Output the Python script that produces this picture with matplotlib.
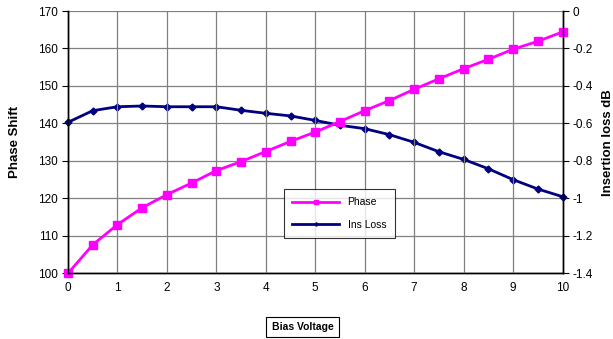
import numpy as np
import matplotlib.pyplot as plt

plt.rcParams['font.family'] = ['Liberation Sans', 'DejaVu Sans']

# bias voltage (V)
voltage = [0, 0.5, 1, 1.5, 2, 2.5, 3, 3.5, 4, 4.5, 5, 5.5, 6, 6.5, 7, 7.5, 8, 8.5, 9, 9.5, 10]
# phase shift (deg)
phase = [100, 107.6, 113.0, 117.5, 121.0, 124.1, 127.4, 129.8, 132.5, 135.2, 137.7,
         140.5, 143.4, 146.1, 149.1, 151.9, 154.6, 157.1, 159.8, 161.9, 164.4]
# insertion loss (dB)
ins_loss = [-0.594, -0.532, -0.511, -0.507, -0.511, -0.511, -0.511, -0.530, -0.546, -0.560, -0.584,
            -0.610, -0.628, -0.660, -0.701, -0.751, -0.792, -0.842, -0.900, -0.950, -0.991]

fig = plt.figure(figsize=(6.13, 3.39), dpi=100)
ax = fig.add_axes([68 / 613, 1 - 273.3 / 339, (562.5 - 68) / 613, (273.3 - 11) / 339])
ax2 = ax.twinx()

# put phase axes on top so the magenta line overlays
ax.set_zorder(ax2.get_zorder() + 1)
ax.patch.set_visible(False)

ax.set_xlim(0, 10)
ax.set_ylim(100, 170)
ax2.set_ylim(-1.4, 0)
ax.set_xticks(range(0, 11))
ax.set_yticks(range(100, 171, 10))
ax2.set_yticks(np.arange(-1.4, 0.01, 0.2))
ax2.set_yticklabels(["-1.4", "-1.2", "-1", "-0.8", "-0.6", "-0.4", "-0.2", "0"])

ax2.grid(True, color="#808080", lw=0.9)
ax.grid(True, axis="x", color="#808080", lw=0.9)
ax2.set_axisbelow(True)

l1, = ax.plot(voltage, phase, color="#FF00FF", lw=2, marker="s", ms=5.5,
              clip_on=False, label="Phase")
l2, = ax2.plot(voltage, ins_loss, color="#000080", lw=2, marker="D", ms=3.5,
               clip_on=False, label="Ins Loss")

for a in (ax, ax2):
    a.spines["top"].set_visible(False)
    for s in ("left", "right", "bottom"):
        a.spines[s].set_color("black")
        a.spines[s].set_linewidth(1)
    a.tick_params(labelsize=8.5, length=4, width=0.8, colors="black")
ax.tick_params(axis="x", length=0, pad=6)

ax.set_ylabel("Phase Shift", fontsize=9.5, fontweight="bold", labelpad=12)
ax2.set_ylabel("Insertion loss dB", fontsize=9.5, fontweight="bold", labelpad=6)

fig.text((265 + 340) / 2 / 613, 1 - 327 / 339, "Bias Voltage", fontsize=7.5,
         fontweight="bold", ha="center", va="center",
         bbox=dict(boxstyle="square,pad=0.5", fc="white", ec="black", lw=0.8))

leg = ax.legend(handles=[l1, l2], loc="upper left",
                bbox_to_anchor=((284 - 68) / (562.5 - 68), (273.3 - 189) / (273.3 - 11)),
                borderaxespad=0, fontsize=7.5, frameon=True, fancybox=False,
                edgecolor="black", handlelength=4.5, markerscale=0.5,
                borderpad=0.8, labelspacing=1.2)
leg.get_frame().set_linewidth(0.8)

fig.savefig("out.png", dpi=100)
